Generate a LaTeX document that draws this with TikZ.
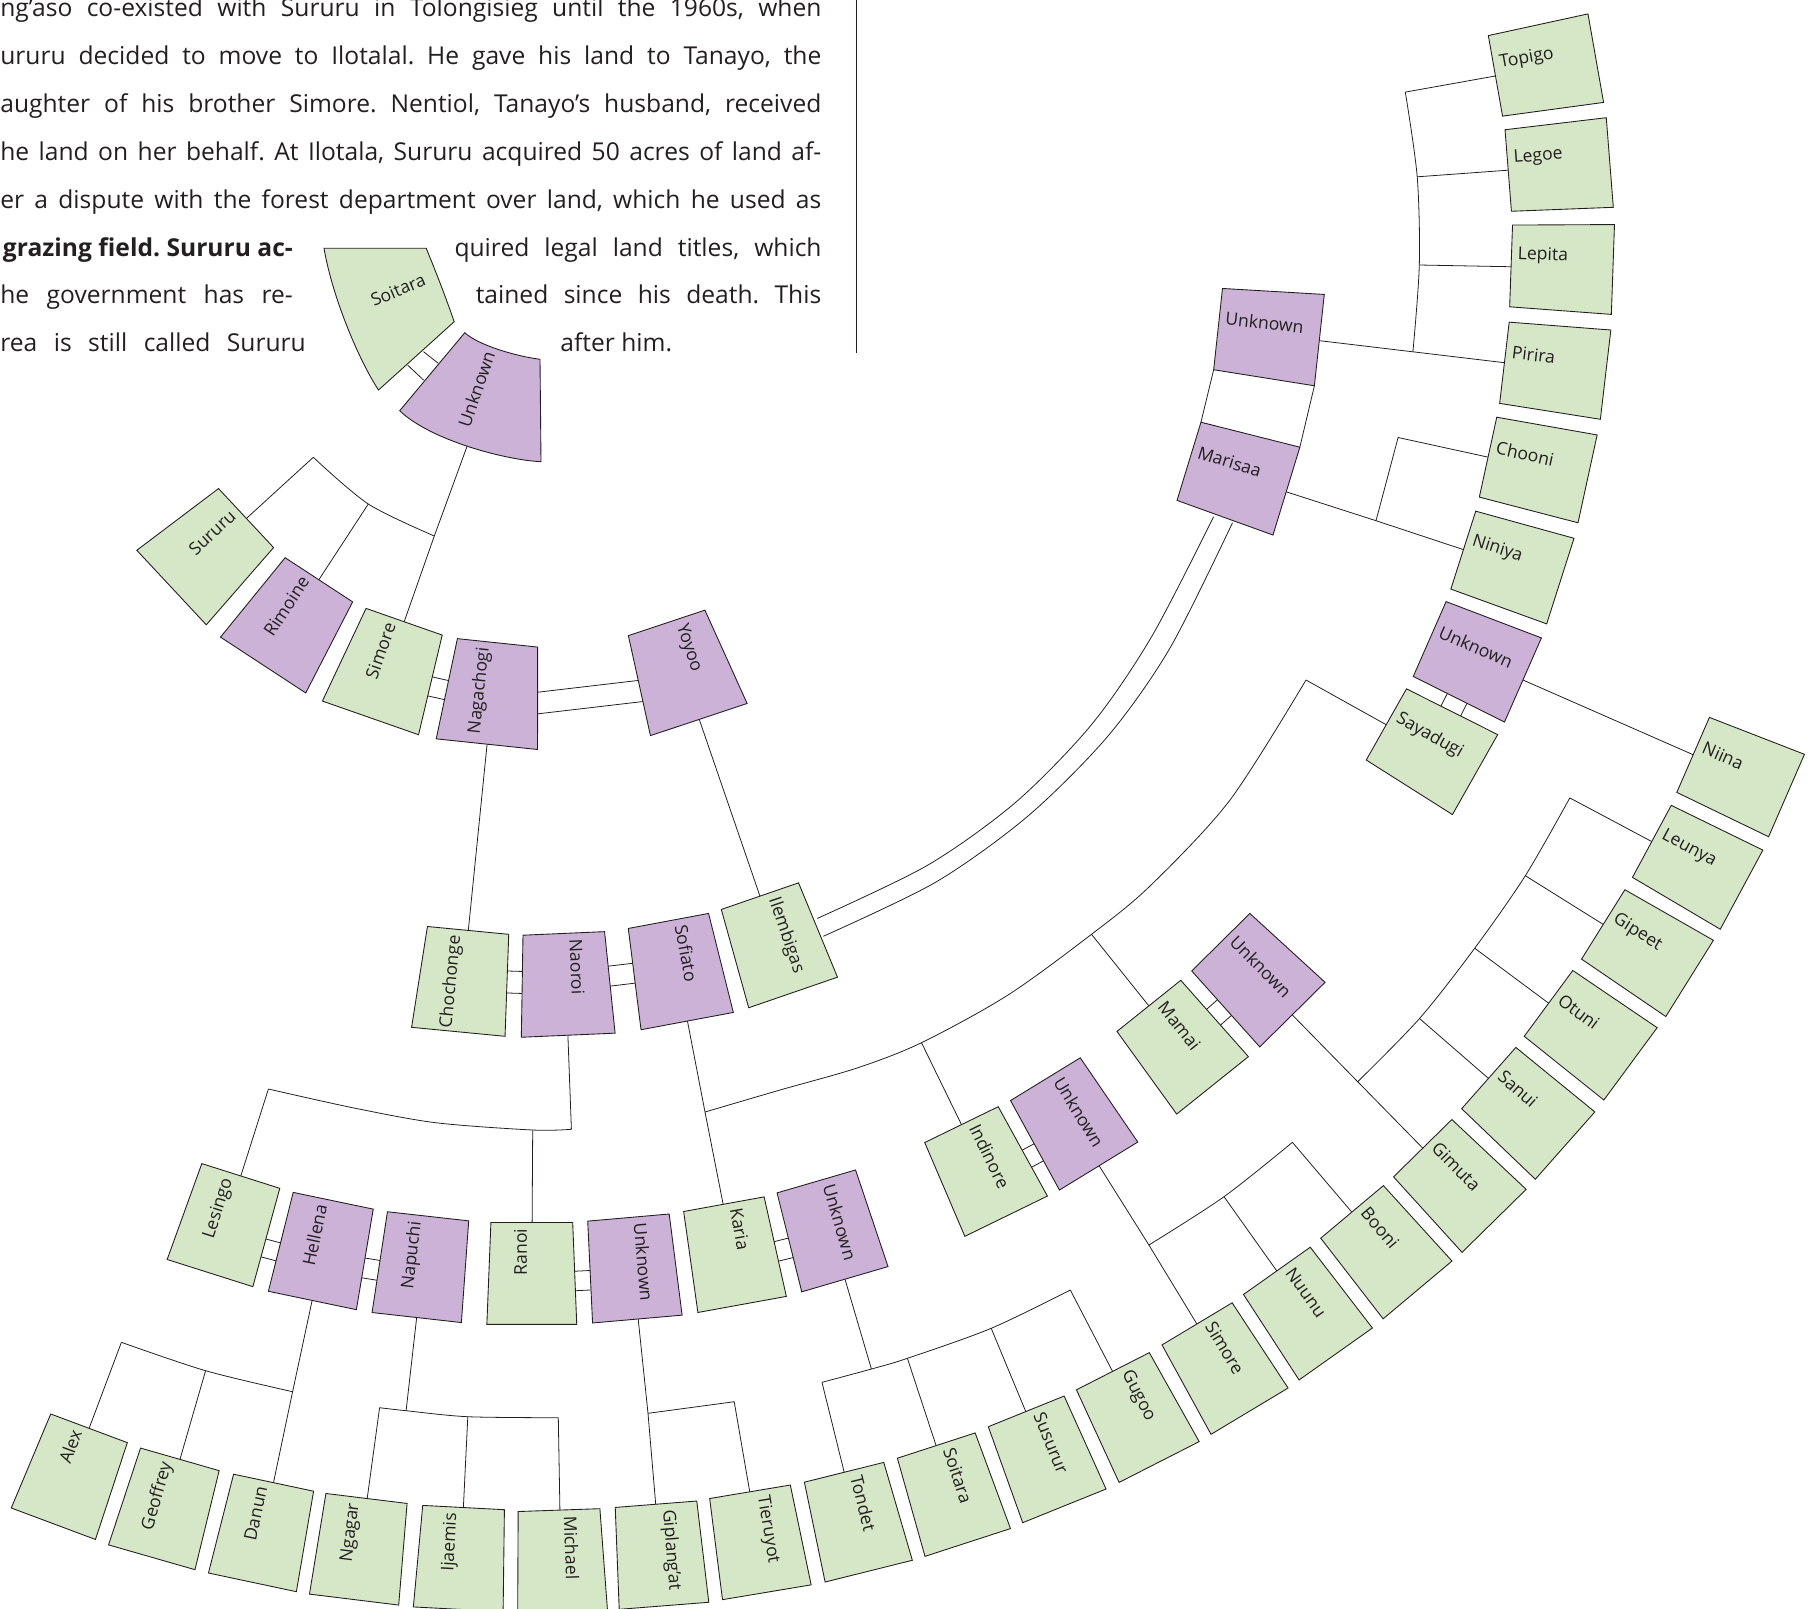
\documentclass[tikz,border=0pt]{standalone}
\usepackage{fontspec}
\setmainfont{Open Sans}
\usetikzlibrary{calc,backgrounds}

\definecolor{kingreen}{RGB}{214,231,199}
\definecolor{inlawlilac}{RGB}{203,178,214}
\definecolor{inkgrey}{RGB}{35,31,32}

\tikzset{
  boxtaper/.store in=\boxtaper, boxtaper=0.045,
  person/.style={minimum width=20.2mm, minimum height=17.8mm, inner sep=0pt},
  kin/.style={fill=kingreen, draw=inkgrey, line width=0.5pt},
  inlaw/.style={fill=inlawlilac, draw=inkgrey, line width=0.5pt},
  topring/.style={minimum height=20.2mm, boxtaper=0.104},
  midring/.style={minimum height=18.6mm, boxtaper=0.065},
  upper/.style={minimum height=18.2mm, boxtaper=0.055},
  tag/.style={inner xsep=1.2mm, inner ysep=0.3mm,
    font=\fontsize{10}{12}\selectfont, text=inkgrey},
  link/.style={draw=inkgrey, line width=0.45pt},
  bodyline/.style={anchor=base west, inner sep=0pt,
    font=\fontsize{14}{16}\selectfont, text=inkgrey},
}

% box narrowing towards the centre, name set against the inner edge
\newcommand{\member}[7]{%
  \node[person, #1, draw=none, fill=none, rotate=#3] (#2) at (#4) {};
  \filldraw[#1] ($(#2.north #5)!\boxtaper!(#2.south #5)$)
    -- ($(#2.south #5)!\boxtaper!(#2.north #5)$)
    -- (#2.south #6) -- (#2.north #6) -- cycle;
  \node[tag, rotate=#3, anchor=#5] (#2-tag) at ($(#2.#5)!.25!(#2.north #5)$) {#7};}

% two short parallel strokes between spouses
\newcommand{\couple}[4]{%
  \draw[link] ($(#1)!#3!90:(#2)$) -- ($(#2)!#3!-90:(#1)$);
  \draw[link] ($(#1)!#4!90:(#2)$) -- ($(#2)!#4!-90:(#1)$);}

\frenchspacing
\begin{document}
\begin{tikzpicture}[x=0.2mm, y=-0.2mm]
\useasboundingbox (0,0) rectangle (1815,1608);

% column of text
\node[bodyline] (para1) at (0,16.5) {\makebox[164.2mm][s]{ng’aso co-existed with Sururu in Tolongisieg until the 1960s, when}};
\node[bodyline] (para2) at (0,64.4) {\makebox[164.2mm][s]{ururu decided to move to Ilotalal. He gave his land to Tanayo, the}};
\node[bodyline] (para3) at (0,112.3) {\makebox[164.2mm][s]{aughter of his brother Simore. Nentiol, Tanayo’s husband, received}};
\node[bodyline] (para4) at (0,160.2) {\makebox[164.2mm][s]{he land on her behalf. At Ilotala, Sururu acquired 50 acres of land af-}};
\node[bodyline] (para5) at (0,208.1) {\makebox[164.2mm][s]{er a dispute with the forest department over land, which he used as}};
\node[bodyline] (para6a) at (2.6,256) {\bfseries\makebox[58mm][s]{grazing field. Sururu ac-}};
\node[bodyline] (para6b) at (454.2,256) {\makebox[73.4mm][s]{quired legal land titles, which}};
\node[bodyline] (para7a) at (0,303.9) {\makebox[58.5mm][s]{he government has re-}};
\node[bodyline] (para7b) at (475.4,303.9) {\makebox[69.1mm][s]{tained since his death. This}};
\node[bodyline] (para8a) at (0,351.8) {\makebox[61.1mm][s]{rea is still called Sururu}};
\node[bodyline] (para8b) at (560.1,351.8) {after him.};
\draw[link] (856.6,0) -- (856.6,353);

% the two wedges at the top
\filldraw[kin] (324,248.3) -- (426.2,248.3)
  .. controls (436,272) and (446,298) .. (454.2,321.7) -- (378.5,390)
  .. controls (360,362) and (333,300) .. cycle;
\node[tag, rotate=22.8] (soitaraA) at (398,290) {Soitara};
\filldraw[inlaw] (464.8,332.7)
  .. controls (478,345) and (515,356) .. (540,359.3) -- (541,461.7)
  .. controls (505,460) and (430,440) .. (399.7,410.7) -- cycle;
\node[tag, rotate=71] (unknownW) at (476.5,389) {Unknown};

% first ring
\member{kin,topring}{sururu}{43}{208.8,552.8}{east}{west}{Sururu}
\member{inlaw,topring}{rimoine}{56.8}{291,622.4}{east}{west}{Rimoine}
\member{kin,topring}{simoreA}{70.7}{387.3,669.8}{east}{west}{Simore}
\member{inlaw,topring}{nagachogi}{84}{492.2,693.5}{east}{west}{Nagachogi}
\member{inlaw,topring}{yoyoo}{-71.6}{682.7,671.2}{west}{east}{Yoyoo}

% second ring
\member{kin,midring}{chochonge}{84.5}{463.2,981.1}{east}{west}{Chochonge}
\member{inlaw,midring}{naoroi}{-87.5}{566,984.3}{west}{east}{Naoroi}
\member{inlaw,midring}{sofiato}{-79.4}{677.8,971}{west}{east}{Sofiato}
\member{kin,midring}{ilembigas}{-71}{776.5,944.3}{west}{east}{Ilembigas}

% third ring
\member{kin}{lesingo}{72.4}{225.4,1224.5}{east}{west}{Lesingo}
\member{inlaw}{hellena}{78.2}{322.8,1250.6}{east}{west}{Hellena}
\member{inlaw}{napuchi}{83.6}{422.4,1266.9}{east}{west}{Napuchi}
\member{kin}{ranoi}{90}{531.8,1273.4}{east}{west}{Ranoi}
\member{inlaw}{unknownN}{-85}{632.9,1268.3}{west}{east}{Unknown}
\member{kin}{karia}{-79.7}{733,1254.3}{west}{east}{Karia}
\member{inlaw}{unknownK}{-73.7}{830.6,1230.3}{west}{east}{Unknown}
\member{kin,upper}{indinore}{-64}{983.8,1170.4}{west}{east}{Indinore}
\member{inlaw,upper}{unknownI}{-58.5}{1072,1122.6}{west}{east}{Unknown}
\member{kin,upper}{mamai}{-51.3}{1180.7,1045.6}{west}{east}{Mamai}
\member{inlaw,upper}{unknownM}{-45.3}{1256.6,978.4}{west}{east}{Unknown}
\member{kin,upper}{sayadugi}{-29.5}{1430.7,749.5}{west}{east}{Sayadugi}
\member{inlaw,upper}{unknownR}{-23.7}{1476.3,659.5}{west}{east}{Unknown}
\member{inlaw,upper}{unknownT}{-6.2}{1268.7,334.6}{west}{east}{Unknown}
\member{inlaw,upper}{marisaa}{-17}{1237.7,476.2}{west}{east}{Marisaa}

% right column
\member{kin}{topigo}{10}{1545.6,67}{west}{east}{Topigo}
\member{kin}{legoe}{4.5}{1559,166.5}{west}{east}{Legoe}
\member{kin}{lepita}{-2}{1562,267.7}{west}{east}{Lepita}
\member{kin}{pirira}{-6.7}{1555,368.7}{west}{east}{Pirira}
\member{kin}{chooni}{-12.3}{1537.8,468}{west}{east}{Chooni}
\member{kin}{niniya}{-17.7}{1511.8,565.6}{west}{east}{Niniya}

% outer ring
\member{kin}{alex}{69.5}{71.2,1476}{east}{west}{Alex}
\member{kin}{geoffrey}{74}{165.8,1508.3}{east}{west}{Geoffrey}
\member{kin}{danun}{78}{263,1532.5}{east}{west}{Danun}
\member{kin}{ngagar}{83}{360.3,1549}{east}{west}{Ngagar}
\member{kin}{ijaemis}{87}{460.9,1558.4}{east}{west}{Ijaemis}
\member{kin}{michael}{-88}{560.8,1561}{west}{east}{Michael}
\member{kin}{giplangat}{-85.5}{660,1555}{west}{east}{Giplang’at}
\member{kin}{tieruyot}{-80.5}{758.4,1542}{west}{east}{Tieruyot}
\member{kin}{tondet}{-76}{856.4,1521.7}{west}{east}{Tondet}
\member{kin}{soitaraB}{-72}{952,1494}{west}{east}{Soitara}
\member{kin}{susurur}{-68}{1045.3,1458.6}{west}{east}{Susurur}
\member{kin}{gugoo}{-63}{1136,1416.6}{west}{east}{Gugoo}
\member{kin}{simoreB}{-59}{1223.3,1367.5}{west}{east}{Simore}
\member{kin}{nuunu}{-54.7}{1306.3,1312.4}{west}{east}{Nuunu}
\member{kin}{booni}{-50}{1384.8,1250.9}{west}{east}{Booni}
\member{kin}{gimuta}{-45.5}{1458.4,1184.5}{west}{east}{Gimuta}
\member{kin}{sanui}{-41.5}{1526.9,1111.8}{west}{east}{Sanui}
\member{kin}{otuni}{-36.4}{1589.5,1033.6}{west}{east}{Otuni}
\member{kin}{gipeet}{-32}{1646.4,951.4}{west}{east}{Gipeet}
\member{kin}{leunya}{-28.3}{1696.7,865.5}{west}{east}{Leunya}
\member{kin}{niina}{-23.5}{1739.8,775.2}{west}{east}{Niina}

% junctions of the sibling brackets
\coordinate (uw) at (467.9,444);
\coordinate (jS) at (313.3,457.3);
\coordinate (jR) at (368.3,504);
\coordinate (jU) at (434.3,536);
\coordinate (nJ) at (571.4,1129.3);
\coordinate (nR) at (532.7,1130);
\coordinate (nL) at (268.4,1089);
\coordinate (sJ) at (705,1112);
\coordinate (sI) at (921.5,1042.7);
\coordinate (sM) at (1091.5,934.3);
\coordinate (sS) at (1306,680);
\coordinate (hJ) at (292.6,1391.7);
\coordinate (hG) at (205.6,1370.7);
\coordinate (hA) at (121.4,1342.3);
\coordinate (pN) at (379.6,1407.7);
\coordinate (pJ) at (406.1,1410.7);
\coordinate (pI) at (467.8,1416.7);
\coordinate (pM) at (558.3,1417.7);
\coordinate (uJ) at (648,1413.3);
\coordinate (uT) at (734.2,1401.7);
\coordinate (kT) at (822,1382.3);
\coordinate (kJ) at (871.4,1369);
\coordinate (kS) at (907.4,1358.3);
\coordinate (kU) at (991.2,1328.3);
\coordinate (kG) at (1070.3,1290);
\coordinate (iJ) at (1148.9,1245);
\coordinate (iN) at (1224,1196.7);
\coordinate (iB) at (1292.4,1142.3);
\coordinate (mJ) at (1357.7,1081.7);
\coordinate (mS) at (1419.5,1018.5);
\coordinate (mO) at (1474.7,948.2);
\coordinate (mG) at (1525.3,875.7);
\coordinate (mL) at (1569.8,797.9);
\coordinate (rJ) at (1376,520.7);
\coordinate (rC) at (1398.1,437.5);
\coordinate (tJ) at (1412.9,351.8);
\coordinate (tLep) at (1419.3,265);
\coordinate (tLeg) at (1417.2,176.8);
\coordinate (tTop) at (1405.3,92.1);
\coordinate (sw1a) at (407.6,365);
\coordinate (sw1b) at (423.5,380);
\coordinate (sw2a) at (423.5,351.7);
\coordinate (sw2b) at (438.3,363.3);
\coordinate (im1) at ($(ilembigas.north)!.22!(ilembigas.north west)$);
\coordinate (im2) at ($(ilembigas.north)!.15!(ilembigas.north east)$);
\coordinate (mi1) at ($(marisaa.south)!.22!(marisaa.south west)$);
\coordinate (mi2) at ($(marisaa.south)!.17!(marisaa.south east)$);

\begin{scope}[on background layer]
  % spouses
  \draw[link] (sw1a) -- (sw1b);
  \draw[link] (sw2a) -- (sw2b);
  \couple{simoreA}{nagachogi}{0.6mm}{-3.3mm}
  \couple{nagachogi}{yoyoo}{-0.8mm}{-5.1mm}
  \couple{chochonge}{naoroi}{2.3mm}{-2.1mm}
  \couple{naoroi}{sofiato}{2.6mm}{-1.4mm}
  \couple{lesingo}{hellena}{-0.7mm}{-4.4mm}
  \couple{hellena}{napuchi}{-0.1mm}{-4.1mm}
  \couple{ranoi}{unknownN}{0mm}{-3.9mm}
  \couple{karia}{unknownK}{0.5mm}{-3.5mm}
  \couple{indinore}{unknownI}{-0.1mm}{-4mm}
  \couple{mamai}{unknownM}{2mm}{-2.2mm}
  \couple{unknownR}{sayadugi}{-2.1mm}{2.3mm}
  \draw[link] ($(unknownT.south west)!.055!(unknownT.north west)$)
    -- ($(marisaa.north west)!.055!(marisaa.south west)$);
  \draw[link] (unknownT.south east) -- (marisaa.north east);
  \draw[link] plot[smooth] coordinates {(im1) (928,865) (1016,802) (1092,724) (1152,636) (mi1)};
  \draw[link] plot[smooth] coordinates {(im2) (936,882) (1028,816) (1108,736) (1170,648) (mi2)};

  % children
  \draw[link] (uw) -- (jU) -- (simoreA);
  \draw[link] plot[smooth] coordinates {(jS) (jR) (jU)};
  \draw[link] (jS) -- (sururu);
  \draw[link] (jR) -- (rimoine);
  \draw[link] (nagachogi) -- (chochonge);
  \draw[link] (yoyoo) -- (ilembigas);

  \draw[link] (naoroi) -- (nJ);
  \draw[link] plot[smooth] coordinates {(nL) (354,1108) (435.7,1122.7) (nR) (nJ)};
  \draw[link] (nR) -- (ranoi);
  \draw[link] (nL) -- (lesingo);

  \draw[link] (sofiato) -- (sJ) -- (karia);
  \draw[link] plot[smooth] coordinates {(sJ) (780,1090) (857,1068) (sI) (1008,995) (sM) (1150,886) (1230,800) (sS)};
  \draw[link] (sI) -- (indinore);
  \draw[link] (sM) -- (mamai);
  \draw[link] (sS) -- (sayadugi);

  \draw[link] (hellena) -- (hJ) -- (danun);
  \draw[link] plot[smooth] coordinates {(hA) (hG) (hJ)};
  \draw[link] (hA) -- (alex);
  \draw[link] (hG) -- (geoffrey);

  \draw[link] (napuchi) -- (pJ);
  \draw[link] plot[smooth] coordinates {(pN) (pJ) (pI) (pM)};
  \draw[link] (pN) -- (ngagar);
  \draw[link] (pI) -- (ijaemis);
  \draw[link] (pM) -- (michael);

  \draw[link] (unknownN) -- (uJ) -- (giplangat);
  \draw[link] (uJ) -- (uT) -- (tieruyot);

  \draw[link] (unknownK) -- (kJ);
  \draw[link] plot[smooth] coordinates {(kT) (kJ) (kS) (kU) (kG)};
  \draw[link] (kT) -- (tondet);
  \draw[link] (kS) -- (soitaraB);
  \draw[link] (kU) -- (susurur);
  \draw[link] (kG) -- (gugoo);

  \draw[link] (unknownI) -- (iJ) -- (simoreB);
  \draw[link] plot[smooth] coordinates {(iJ) (iN) (iB)};
  \draw[link] (iN) -- (nuunu);
  \draw[link] (iB) -- (booni);

  \draw[link] (unknownM) -- (mJ) -- (gimuta);
  \draw[link] plot[smooth] coordinates {(mJ) (mS) (mO) (mG) (mL)};
  \draw[link] (mS) -- (sanui);
  \draw[link] (mO) -- (otuni);
  \draw[link] (mG) -- (gipeet);
  \draw[link] (mL) -- (leunya);

  \draw[link] (unknownR) -- (niina);

  \draw[link] (marisaa) -- (rJ) -- (niniya);
  \draw[link] (rJ) -- (rC) -- (chooni);

  \draw[link] (unknownT) -- (tJ) -- (pirira);
  \draw[link] plot[smooth] coordinates {(tTop) (tLeg) (tLep) (tJ)};
  \draw[link] (tTop) -- (topigo);
  \draw[link] (tLeg) -- (legoe);
  \draw[link] (tLep) -- (lepita);
\end{scope}
\end{tikzpicture}
\end{document}
